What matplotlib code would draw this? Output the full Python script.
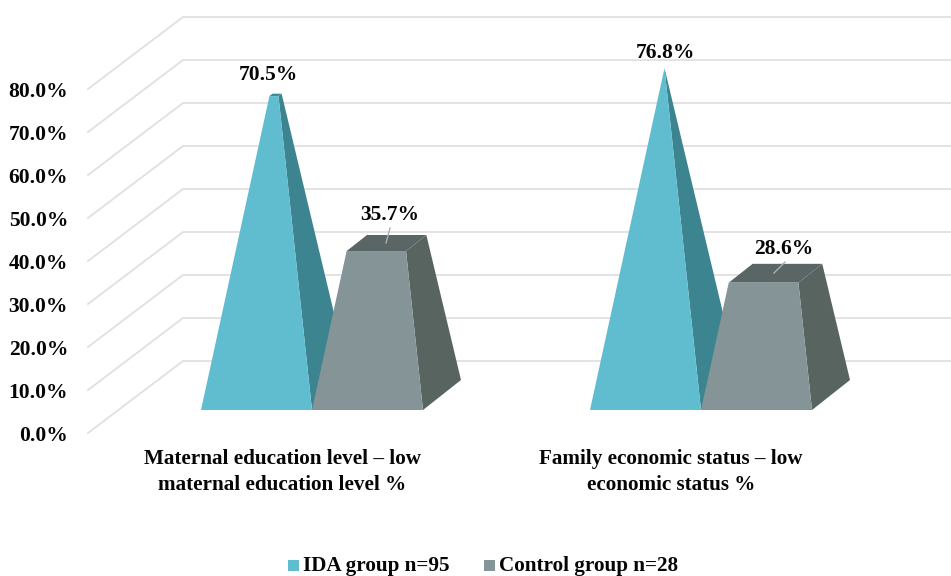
import matplotlib
matplotlib.use('Agg')
import matplotlib.pyplot as plt
from matplotlib.patches import Polygon

# data------------------------------------------------------------------------#
categories = ['Maternal education level – low\nmaternal education level %',
              'Family economic status – low\neconomic status %']
ida = [70.5, 76.8]
control = [35.7, 28.6]
series_names = ['IDA group n=95', 'Control group n=28']
ticks = [0, 10, 20, 30, 40, 50, 60, 70, 80]

# parameters------------------------------------------------------------------#
W, H = 951, 576
y0_px = 433.
px_per_pct = 4.3
f = 15.5
serif = 'Liberation Serif'
grid_col = '#e0e0e0'
ink = '#050505'

# wall depth, in x pixels and in percent units
wall_dx = 95
wall_dy = 72/px_per_pct
# bar footprint: front edge y, depth offset
base_v = (y0_px-410)/px_per_pct
bar_dx = 38
bar_dy = 30/px_per_pct
bar_w = 111
# left edge of the first bar in each group
group_x = [201, 590]
apex_scale = .99
vmax = max(ida+control)

teal = ['#5fbdcf', '#3c8490', '#3f8a95']
grey = ['#849497', '#58645f', '#5a6666']

# label centres in pixels, ida then control
ida_lab = [(268, 75), (665, 53)]
ctl_lab = [(390, 215), (784, 249)]
leaders = [((390, 228), (386, 243)), ((785, 262), (774, 273))]

# axes------------------------------------------------------------------------#
fig = plt.figure(figsize=(W/100, H/100), dpi=100)
ax = fig.add_axes([0, 0, 1, 1])
ax.set_xlim(0, W)
ax.set_ylim((y0_px-H)/px_per_pct, y0_px/px_per_pct)
ax.axis('off')

def v_of(py):
    return (y0_px-py)/px_per_pct

# gridlines-------------------------------------------------------------------#
for t in ticks:
    ax.plot([88, 88+wall_dx, W], [t, t+wall_dy, t+wall_dy], color=grid_col, lw=1.3, zorder=1)
    ax.text(68, t-.7, '%.1f%%' % t, ha='right', va='center', family=serif,
            weight='bold', size=f, color=ink)

# pyramid---------------------------------------------------------------------#
def pyramid(x, v, cols, zorder):
    t = v/vmax
    ax_ = x+bar_w/2+bar_dx/2
    ay_ = base_v+bar_dy/2+vmax*apex_scale
    def top(px, py):
        return (px+t*(ax_-px), py+t*(ay_-py))
    fl, fr = (x, base_v), (x+bar_w, base_v)
    bl, br = (x+bar_dx, base_v+bar_dy), (x+bar_w+bar_dx, base_v+bar_dy)
    tfl, tfr, tbl, tbr = top(*fl), top(*fr), top(*bl), top(*br)
    ax.add_patch(Polygon([fr, br, tbr, tfr], fc=cols[1], ec='none', zorder=zorder))
    ax.add_patch(Polygon([tfl, tfr, tbr, tbl], fc=cols[2], ec='none', zorder=zorder))
    ax.add_patch(Polygon([fl, fr, tfr, tfl], fc=cols[0], ec='none', zorder=zorder))

for i, x in enumerate(group_x):
    pyramid(x, ida[i], teal, 3)
    pyramid(x+bar_w, control[i], grey, 4)
    (ax0, ay0), (ax1, ay1) = leaders[i]
    ax.plot([ax0, ax1], [v_of(ay0), v_of(ay1)], color='#a9b0b0', lw=1, zorder=5)
    ax.text(ida_lab[i][0], v_of(ida_lab[i][1]), '%.1f%%' % ida[i], ha='center', va='center',
            family=serif, weight='bold', size=f, color=ink, zorder=6)
    ax.text(ctl_lab[i][0], v_of(ctl_lab[i][1]), '%.1f%%' % control[i], ha='center', va='center',
            family=serif, weight='bold', size=f, color=ink, zorder=6)

# category labels-------------------------------------------------------------#
for cx, c in zip([282, 671], categories):
    ax.text(cx, v_of(472), c, ha='center', va='center', family=serif,
            weight='bold', size=15.2, color=ink, linespacing=1.42)

# legend----------------------------------------------------------------------#
for sx, name, col in zip([288, 484], series_names, [teal[0], grey[0]]):
    ax.add_patch(Polygon([(sx, v_of(571)), (sx+11, v_of(571)), (sx+11, v_of(560)), (sx, v_of(560))],
                         fc=col, ec='none'))
    ax.text(sx+15, v_of(570.5), name, ha='left', va='baseline', family=serif, weight='bold',
            size=15.2, color=ink)

plt.savefig('out.png', dpi=100)
